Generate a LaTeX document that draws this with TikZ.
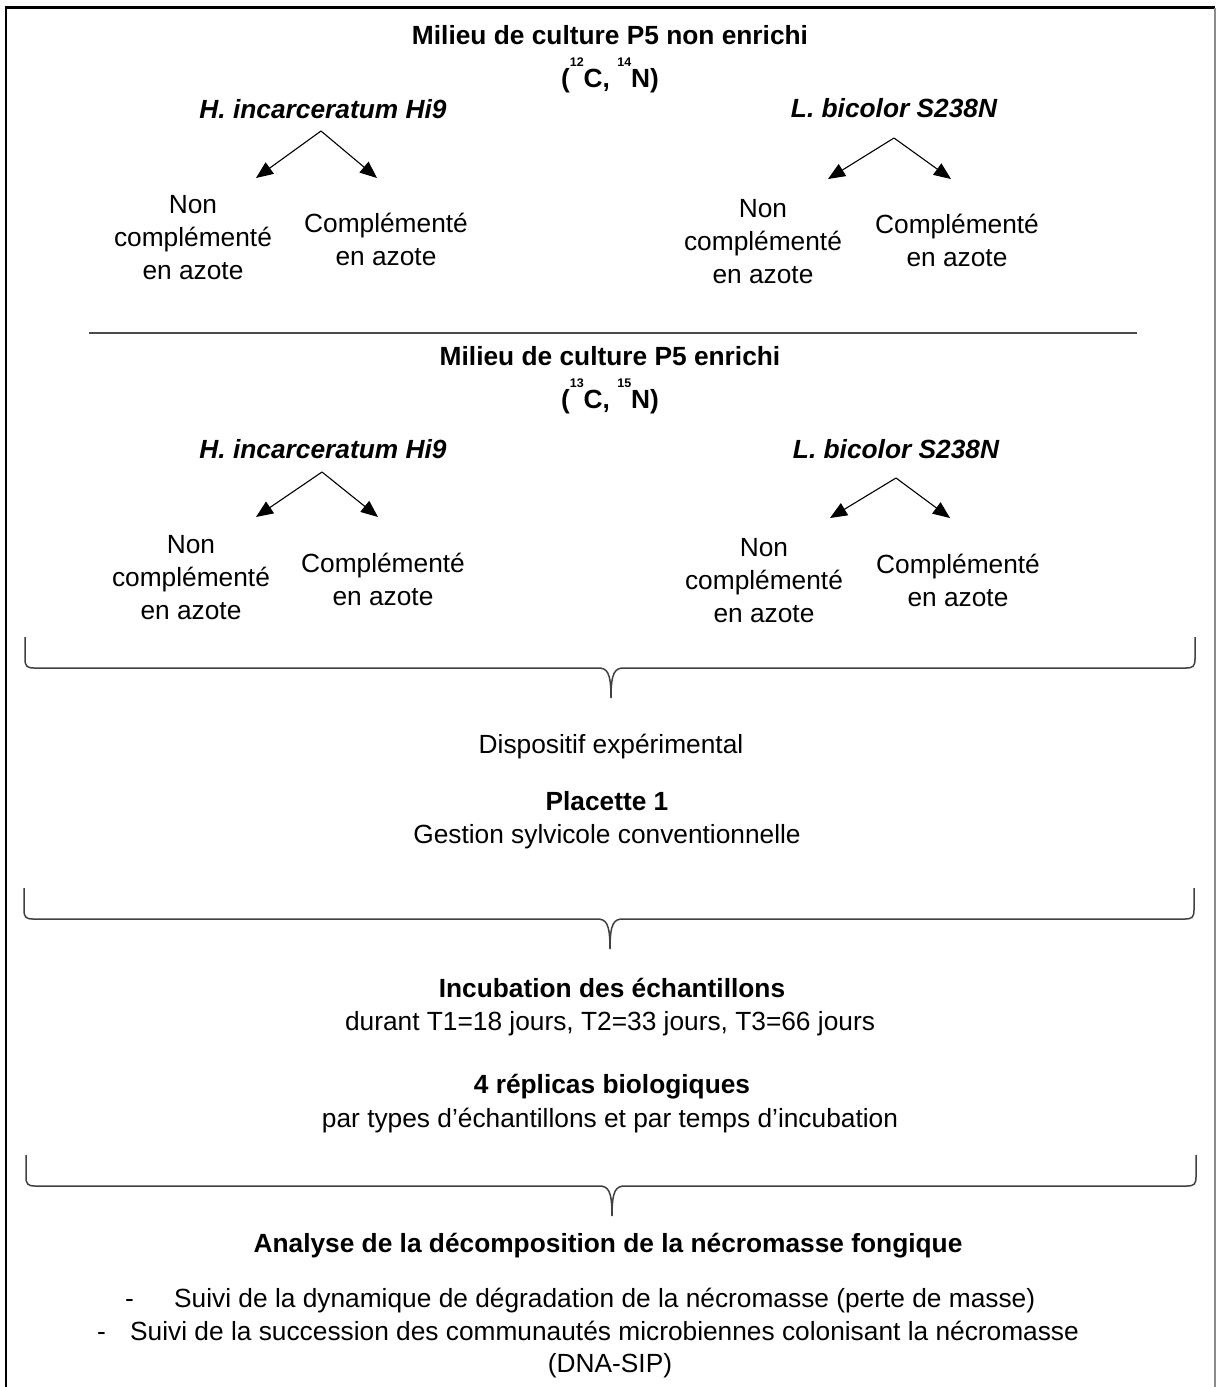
\documentclass[tikz,border=0pt]{standalone}
\usepackage{fontspec}
\setmainfont{Liberation Sans}
\usetikzlibrary{arrows.meta}
\newcommand{\isot}[1]{\raisebox{21pt}{\fontsize{12.5}{12.5}\selectfont #1}}
\begin{document}
\begin{tikzpicture}[x=1pt,y=-1pt,
  txt/.style={inner sep=0pt, anchor=base, align=center, font=\fontsize{26.3}{33}\selectfont},
  bld/.style={txt, font=\fontsize{26.3}{33}\selectfont\bfseries},
  spc/.style={txt, font=\fontsize{26.3}{33}\selectfont\bfseries\itshape},
  arr/.style={-{Triangle[length=17pt,width=14pt]}, line width=1.1pt},
  bracel/.style={draw=black!75, line width=1.5pt},
  sepline/.style={draw=black!70, line width=1.6pt},
  framel/.style={draw=black, line width=2.6pt},
  framer/.style={draw=black!45, line width=2pt},
  wbrace/.pic={\draw[bracel] (-586,-31) -- (-586,-9) .. controls (-586,-2) and (-584,0) .. (-577,0) -- (-13,0) .. controls (-4,0) and (0,4) .. (0,30) .. controls (0,4) and (4,0) .. (13,0) -- (575,0) .. controls (582,0) and (584,-2) .. (584,-9) -- (584,-31);}
]
\useasboundingbox (0,0) rectangle (1216,1387);
\fill[white] (0,0) rectangle (1216,1387);
% frame
\coordinate (fbl) at (6,1390);
\coordinate (ftr) at (1214.5,7.5);
\coordinate (fbr) at (1214.5,1390);
\draw[framel] (fbl) |- (ftr);
\draw[framer] (ftr) -- (fbr);

% ---------- section 1
\node[bld] (t1) at (610,44) {Milieu de culture P5 non enrichi};
\node[bld] (t1b) at (610,87) {(\isot{12}C, \isot{14}N)};
\node[spc] (hi1) at (323,118) {H. incarceratum Hi9};
\node[spc] (lb1) at (894,117) {L. bicolor S238N};
\coordinate (hi1a) at (321,131);
\coordinate (hi1l) at (256,178);
\coordinate (hi1r) at (377,178);
\draw[arr] (hi1a) -- (hi1l);
\draw[arr] (hi1a) -- (hi1r);
\coordinate (lb1a) at (894,138);
\coordinate (lb1l) at (828,179);
\coordinate (lb1r) at (951,179);
\draw[arr] (lb1a) -- (lb1l);
\draw[arr] (lb1a) -- (lb1r);
\node[txt] (hi1n) at (193,279) {Non\\complémenté\\en azote};
\node[txt] (hi1c) at (386,265) {Complémenté\\en azote};
\node[txt] (lb1n) at (763,283) {Non\\complémenté\\en azote};
\node[txt] (lb1c) at (957,266) {Complémenté\\en azote};

\coordinate (sepl) at (89,333);
\coordinate (sepr) at (1137,333);
\draw[sepline] (sepl) -- (sepr);

% ---------- section 2
\node[bld] (t2) at (610,365) {Milieu de culture P5 enrichi};
\node[bld] (t2b) at (610,408) {(\isot{13}C, \isot{15}N)};
\node[spc] (hi2) at (323,458) {H. incarceratum Hi9};
\node[spc] (lb2) at (896,458) {L. bicolor S238N};
\coordinate (hi2a) at (322,472);
\coordinate (hi2l) at (256,517);
\coordinate (hi2r) at (378,517);
\draw[arr] (hi2a) -- (hi2l);
\draw[arr] (hi2a) -- (hi2r);
\coordinate (lb2a) at (896,478);
\coordinate (lb2l) at (830,518);
\coordinate (lb2r) at (950,518);
\draw[arr] (lb2a) -- (lb2l);
\draw[arr] (lb2a) -- (lb2r);
\node[txt] (hi2n) at (191,619) {Non\\complémenté\\en azote};
\node[txt] (hi2c) at (383,605) {Complémenté\\en azote};
\node[txt] (lb2n) at (764,622) {Non\\complémenté\\en azote};
\node[txt] (lb2c) at (958,606) {Complémenté\\en azote};

% ---------- braces and lower part
\pic (br1) at (611,668) {wbrace};
\node[txt] (disp) at (611,753) {Dispositif expérimental};
\node[bld] (plac) at (607,810) {Placette 1};
\node[txt] (gest) at (607,843) {Gestion sylvicole conventionnelle};

\pic (br2) at (610,919) {wbrace};
\node[bld] (incu) at (612,997) {Incubation des échantillons};
\node[txt] (dur) at (610,1030) {durant T1=18 jours, T2=33 jours, T3=66 jours};
\node[bld] (repl) at (612,1093) {4 réplicas biologiques};
\node[txt] (par) at (610,1127) {par types d’échantillons et par temps d’incubation};

\pic (br3) at (612,1186) {wbrace};
\node[bld] (ana) at (608,1252) {Analyse de la décomposition de la nécromasse fongique};
\node[txt,anchor=base west] (d1) at (125,1307) {-};
\node[txt,anchor=base west] (s1) at (174,1307) {Suivi de la dynamique de dégradation de la nécromasse (perte de masse)};
\node[txt,anchor=base west] (d2) at (97,1340) {-};
\node[txt,anchor=base west] (s2) at (130,1340) {Suivi de la succession des communautés microbiennes colonisant la nécromasse};
\node[txt] (dna) at (610,1372) {(DNA-SIP)};
\end{tikzpicture}
\end{document}
